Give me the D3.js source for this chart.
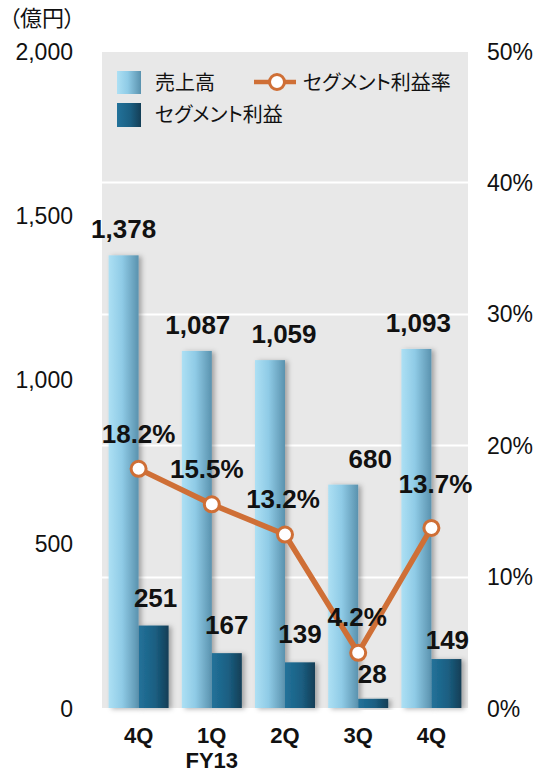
<!DOCTYPE html>
<html>
<head>
<meta charset="utf-8">
<script src="https://cdn.jsdelivr.net/npm/d3@7"></script>
<style>
  html, body { margin: 0; padding: 0; background: #fff; }
  svg { display: block; }
  text { font-family: "Liberation Sans", Arial, "Noto Sans CJK JP", sans-serif; }
  .jp { font-family: "Noto Sans CJK JP", sans-serif; font-feature-settings: "palt"; }
</style>
</head>
<body>
<svg id="chart" width="539" height="774"></svg>
<script>
// Quarterly figures (億円) and segment margin (%)
const quarters = ["4Q", "1Q", "2Q", "3Q", "4Q"];
const subLabels = ["", "FY13", "", "", ""];
const sales = [1378, 1087, 1059, 680, 1093];
const segmentProfit = [251, 167, 139, 28, 149];
const marginPct = [18.2, 15.5, 13.2, 4.2, 13.7];
const leftTicks = [0, 500, 1000, 1500, 2000];
const rightTicks = [0, 10, 20, 30, 40, 50];

const svg = d3.select("#chart");
const m = { left: 102, right: 468, top: 51, bottom: 708 };

const x = d3.scaleBand().domain(d3.range(quarters.length)).range([m.left, m.right]);
const y = d3.scaleLinear().domain([0, 2000]).range([m.bottom, m.top]);
const yR = d3.scaleLinear().domain([0, 50]).range([m.bottom, m.top]);
const barW = 30;
const cx = i => x(i) + x.bandwidth() / 2;

const defs = svg.append("defs");
const gLight = defs.append("linearGradient").attr("id", "gLight");
gLight.append("stop").attr("offset", "0%").attr("stop-color", "#ade0f4");
gLight.append("stop").attr("offset", "45%").attr("stop-color", "#8fcbe6");
gLight.append("stop").attr("offset", "100%").attr("stop-color", "#5a92ae");
const gDark = defs.append("linearGradient").attr("id", "gDark");
gDark.append("stop").attr("offset", "0%").attr("stop-color", "#22729a");
gDark.append("stop").attr("offset", "55%").attr("stop-color", "#1b5f82");
gDark.append("stop").attr("offset", "100%").attr("stop-color", "#143e56");
const shadow = defs.append("filter").attr("id", "shadow")
  .attr("x", "-30%").attr("y", "-10%").attr("width", "180%").attr("height", "130%");
shadow.append("feDropShadow").attr("dx", 3).attr("dy", 1).attr("stdDeviation", 2.5)
  .attr("flood-color", "#000").attr("flood-opacity", 0.3);

// plot background
svg.append("rect").attr("x", m.left).attr("y", m.top + 1)
  .attr("width", m.right - m.left).attr("height", m.bottom - m.top - 1)
  .attr("fill", "#e8e8e8");

// gridlines follow the percentage axis
svg.append("g").selectAll("line").data(rightTicks.filter(d => d > 0 && d < 50)).join("line")
  .attr("x1", m.left).attr("x2", m.right)
  .attr("y1", d => Math.round(yR(d)) + 0.5).attr("y2", d => Math.round(yR(d)) + 0.5)
  .attr("stroke", "#fff").attr("stroke-width", 2);

// left axis
const leftAxis = d3.axisLeft(y).tickValues(leftTicks).tickSize(0).tickPadding(0)
  .tickFormat(d3.format(","));
const gl = svg.append("g").attr("transform", "translate(73,0)").call(leftAxis);
gl.select(".domain").remove();
gl.selectAll("text").attr("font-size", 23).attr("fill", "#111").attr("dy", "0.35em")
  .attr("font-family", "Liberation Sans, Arial, sans-serif");

// right axis
const rightAxis = d3.axisRight(yR).tickValues(rightTicks).tickSize(0).tickPadding(0)
  .tickFormat(d => d + "%");
const gr = svg.append("g").attr("transform", "translate(487,0)").call(rightAxis);
gr.select(".domain").remove();
gr.selectAll("text").attr("font-size", 23).attr("fill", "#111").attr("dy", "0.35em")
  .attr("font-family", "Liberation Sans, Arial, sans-serif");

svg.append("text").attr("class", "jp").attr("x", 9).attr("y", 26)
  .attr("font-size", 22).attr("fill", "#111").text("（億円）");

// bars
const bars = svg.append("g");
bars.selectAll("rect.sales").data(sales).join("rect")
  .attr("class", "sales")
  .attr("x", (d, i) => cx(i) - barW)
  .attr("y", d => y(d)).attr("width", barW).attr("height", d => m.bottom - y(d))
  .attr("fill", "url(#gLight)").attr("filter", "url(#shadow)");
bars.selectAll("rect.profit").data(segmentProfit).join("rect")
  .attr("class", "profit")
  .attr("x", (d, i) => cx(i))
  .attr("y", d => y(d)).attr("width", barW).attr("height", d => m.bottom - y(d))
  .attr("fill", "url(#gDark)").attr("filter", "url(#shadow)");

// bar value labels
const fmt = d3.format(",");
const salesDx = [0, 1, 14, 27, 2];
const profitDx = [2, 0, 0, -1, 1];
const profitDy = [-19, -19, -19, -16, -10];
svg.append("g").selectAll("text").data(sales).join("text")
  .attr("x", (d, i) => cx(i) - barW / 2 + salesDx[i])
  .attr("y", d => y(d) - 17)
  .attr("text-anchor", "middle").attr("font-size", 26).attr("font-weight", "bold")
  .attr("fill", "#111").text(d => fmt(d));
svg.append("g").selectAll("text").data(segmentProfit).join("text")
  .attr("x", (d, i) => cx(i) + barW / 2 + profitDx[i])
  .attr("y", (d, i) => y(d) + profitDy[i])
  .attr("text-anchor", "middle").attr("font-size", 26).attr("font-weight", "bold")
  .attr("fill", "#111").text(d => fmt(d));

// margin line
const line = d3.line().x((d, i) => cx(i)).y(d => yR(d));
svg.append("path").datum(marginPct).attr("d", line)
  .attr("fill", "none").attr("stroke", "#cf6f36").attr("stroke-width", 5.5)
  .attr("stroke-linejoin", "round");
svg.append("g").selectAll("circle").data(marginPct).join("circle")
  .attr("cx", (d, i) => cx(i)).attr("cy", d => yR(d)).attr("r", 7.5)
  .attr("fill", "#fff").attr("stroke", "#cf6f36").attr("stroke-width", 3);

const pctDx = [0, -5, -2, -1, 4];
const pctDy = [-26, -26, -27, -27, -35];
svg.append("g").selectAll("text").data(marginPct).join("text")
  .attr("x", (d, i) => cx(i) + pctDx[i])
  .attr("y", (d, i) => yR(d) + pctDy[i])
  .attr("text-anchor", "middle").attr("font-size", 26).attr("font-weight", "bold")
  .attr("fill", "#111").text(d => d.toFixed(1) + "%");

// category labels
svg.append("g").selectAll("text").data(quarters).join("text")
  .attr("x", (d, i) => cx(i)).attr("y", 743)
  .attr("text-anchor", "middle").attr("font-size", 22).attr("font-weight", "bold")
  .attr("fill", "#111").text(d => d);
svg.append("g").selectAll("text").data(subLabels).join("text")
  .attr("x", (d, i) => cx(i)).attr("y", 768)
  .attr("text-anchor", "middle").attr("font-size", 22).attr("font-weight", "bold")
  .attr("fill", "#111").text(d => d);

// legend
const lg = svg.append("g");
lg.append("rect").attr("x", 117).attr("y", 71).attr("width", 24).attr("height", 23).attr("fill", "url(#gLight)");
lg.append("rect").attr("x", 117).attr("y", 103).attr("width", 24).attr("height", 24).attr("fill", "url(#gDark)");
lg.append("text").attr("class", "jp").attr("x", 155).attr("y", 90).attr("font-size", 20).attr("fill", "#111").text("売上高");
lg.append("text").attr("class", "jp").attr("x", 155).attr("y", 122).attr("font-size", 20).attr("fill", "#111").text("セグメント利益");
lg.append("line").attr("x1", 254).attr("x2", 296).attr("y1", 82).attr("y2", 82)
  .attr("stroke", "#cf6f36").attr("stroke-width", 4.5);
lg.append("circle").attr("cx", 277).attr("cy", 82).attr("r", 7.5)
  .attr("fill", "#fff").attr("stroke", "#cf6f36").attr("stroke-width", 3);
lg.append("text").attr("class", "jp").attr("x", 303).attr("y", 90).attr("font-size", 20).attr("fill", "#111").text("セグメント利益率");
</script>
</body>
</html>
